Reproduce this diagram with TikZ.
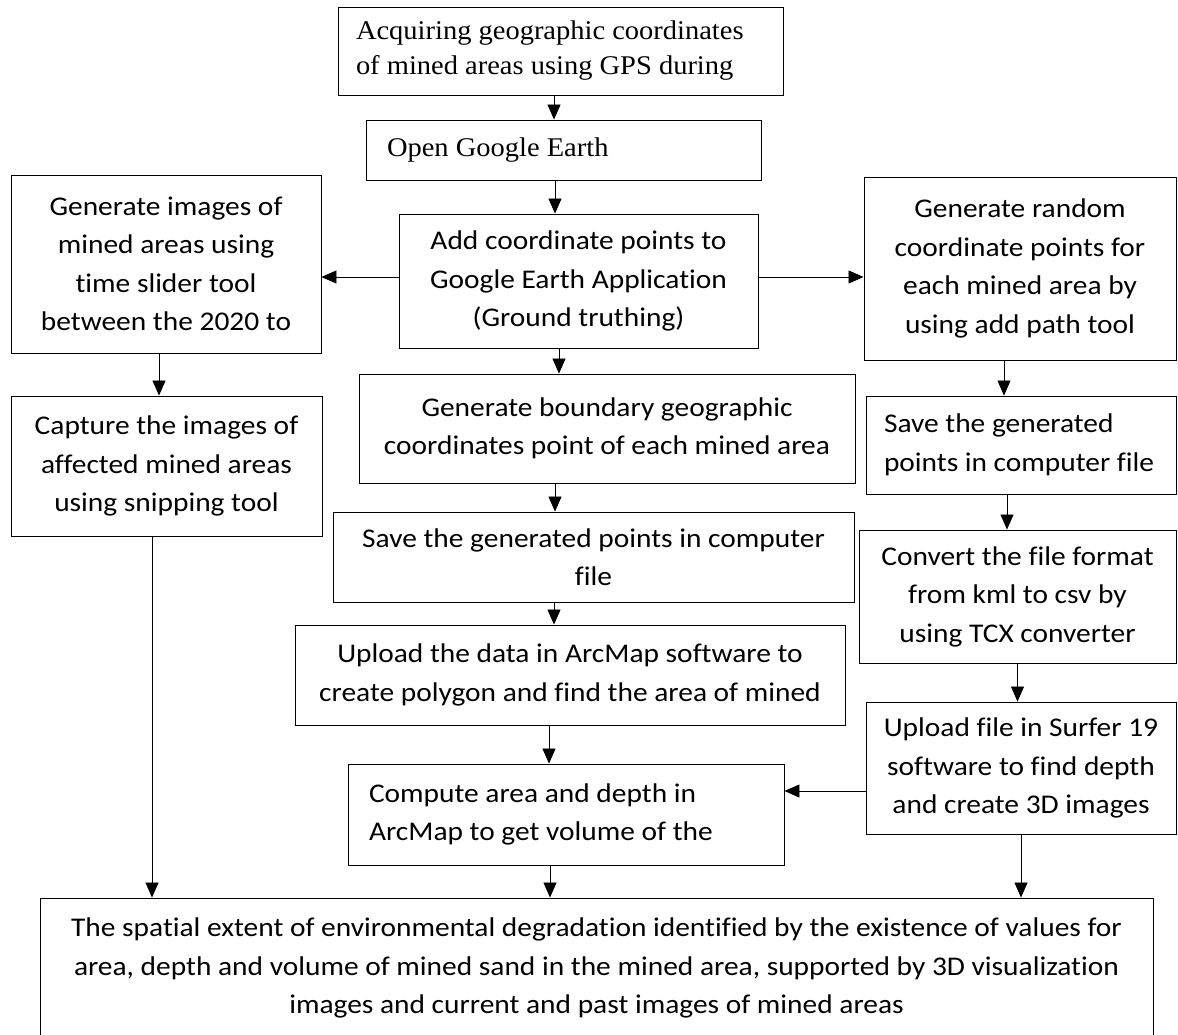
\documentclass[tikz,border=0pt]{standalone}
\usepackage{fontspec}
\usetikzlibrary{arrows.meta}
\newfontfamily\calibri[FakeStretch=1.09,Ligatures=NoCommon]{Carlito}
\newfontfamily\timesrm[FakeStretch=1.055]{Liberation Serif}

\tikzset{
  stepbox/.style={draw, line width=0.9pt, inner sep=0pt, align=center,
    font=\calibri\fontsize{27}{38.5}\selectfont},
  leftbox/.style={stepbox, align=flush left, inner xsep=21pt},
  serifbox/.style={leftbox, font=\timesrm\fontsize{27}{35}\selectfont},
  flow/.style={-{Triangle[length=15pt,width=13pt]}, line width=0.8pt},
}

\begin{document}
\begin{tikzpicture}[x=1pt,y=-1pt]
  \clip (0,0) rectangle (1178,1034);
  % middle column
  \node[serifbox, inner xsep=18pt, text width=409pt, minimum height=88pt] (acq) at (560.5,51)
    {Acquiring geographic coordinates\\of mined areas using GPS during};
  \node[serifbox, text width=353pt, minimum height=60pt] (open) at (563.5,150) {Open Google Earth};
  \node[stepbox, minimum width=359pt, minimum height=134pt] (add) at (578.5,281)
    {Add coordinate points to\\Google Earth Application\\(Ground truthing)};
  \node[stepbox, minimum width=496pt, minimum height=109pt] (bound) at (607,428.5)
    {Generate boundary geographic\\coordinates point of each mined area};
  \node[stepbox, minimum width=521pt, minimum height=90pt] (save) at (593.5,557)
    {Save the generated points in computer\\file};
  \node[stepbox, minimum width=550pt, minimum height=100pt] (upload) at (570,675)
    {Upload the data in ArcMap software to\\create polygon and find the area of mined};
  \node[leftbox, text width=394pt, minimum height=101pt] (comp) at (566,814.5)
    {Compute area and depth in\\ArcMap to get volume of the};
  % left column
  \node[stepbox, minimum width=310pt, minimum height=178pt] (gen) at (166,264)
    {Generate images of\\mined areas using\\time slider tool\\between the 2020 to};
  \node[stepbox, minimum width=311pt, minimum height=140pt] (capt) at (166.5,466)
    {Capture the images of\\affected mined areas\\using snipping tool};
  % right column
  \node[stepbox, minimum width=312pt, minimum height=183pt] (rand) at (1020,268.5)
    {Generate random\\coordinate points for\\each mined area by\\using add path tool};
  \node[leftbox, inner xsep=18pt, text width=274pt, minimum height=98pt] (save2) at (1021,445)
    {Save the generated\\points in computer file};
  \node[stepbox, minimum width=317pt, minimum height=133pt] (conv) at (1017.5,596.5)
    {Convert the file format\\from kml to csv by\\using TCX converter};
  \node[stepbox, minimum width=310pt, minimum height=132pt] (surf) at (1021,768)
    {Upload file in Surfer 19\\software to find depth\\and create 3D images};
  % result
  \node[stepbox, minimum width=1113pt, minimum height=140pt] (final) at (596.5,968)
    {The spatial extent of environmental degradation identified by the existence of values for\\
     area, depth and volume of mined sand in the mined area, supported by 3D visualization\\
     images and current and past images of mined areas};

  \draw[flow] ([xshift=-6.5pt]acq.south) -- ([xshift=-6.5pt]acq.south |- open.north);
  \draw[flow] ([xshift=-8.5pt]open.south) -- ([xshift=-8.5pt]open.south |- add.north);
  \draw[flow] ([yshift=4pt]add.west) -- ([yshift=4pt]add.west -| gen.east);
  \draw[flow] ([yshift=4pt]add.east) -- ([yshift=4pt]add.east -| rand.west);
  \draw[flow] ([xshift=-19.5pt]add.south) -- ([xshift=-19.5pt]add.south |- bound.north);
  \draw[flow] ([xshift=-52pt]bound.south) -- ([xshift=-52pt]bound.south |- save.north);
  \draw[flow] ([xshift=-39.5pt]save.south) -- ([xshift=-39.5pt]save.south |- upload.north);
  \draw[flow] ([xshift=-21pt]upload.south) -- ([xshift=-21pt]upload.south |- comp.north);
  \draw[flow] ([xshift=-16pt]comp.south) -- ([xshift=-16pt]comp.south |- final.north);
  \draw[flow] ([xshift=-7pt]gen.south) -- ([xshift=-7pt]gen.south |- capt.north);
  \draw[flow] ([xshift=-14.5pt]capt.south) -- ([xshift=-14.5pt]capt.south |- final.north);
  \draw[flow] ([xshift=-16pt]rand.south) -- ([xshift=-16pt]rand.south |- save2.north);
  \draw[flow] ([xshift=-14pt]save2.south) -- ([xshift=-14pt]save2.south |- conv.north);
  \draw[flow] (conv.south) -- (conv.south |- surf.north);
  \draw[flow] ([yshift=-23pt]surf.west) -- ([yshift=-23pt]surf.west -| comp.east);
  \draw[flow] (surf.south) -- (surf.south |- final.north);
\end{tikzpicture}
\end{document}
